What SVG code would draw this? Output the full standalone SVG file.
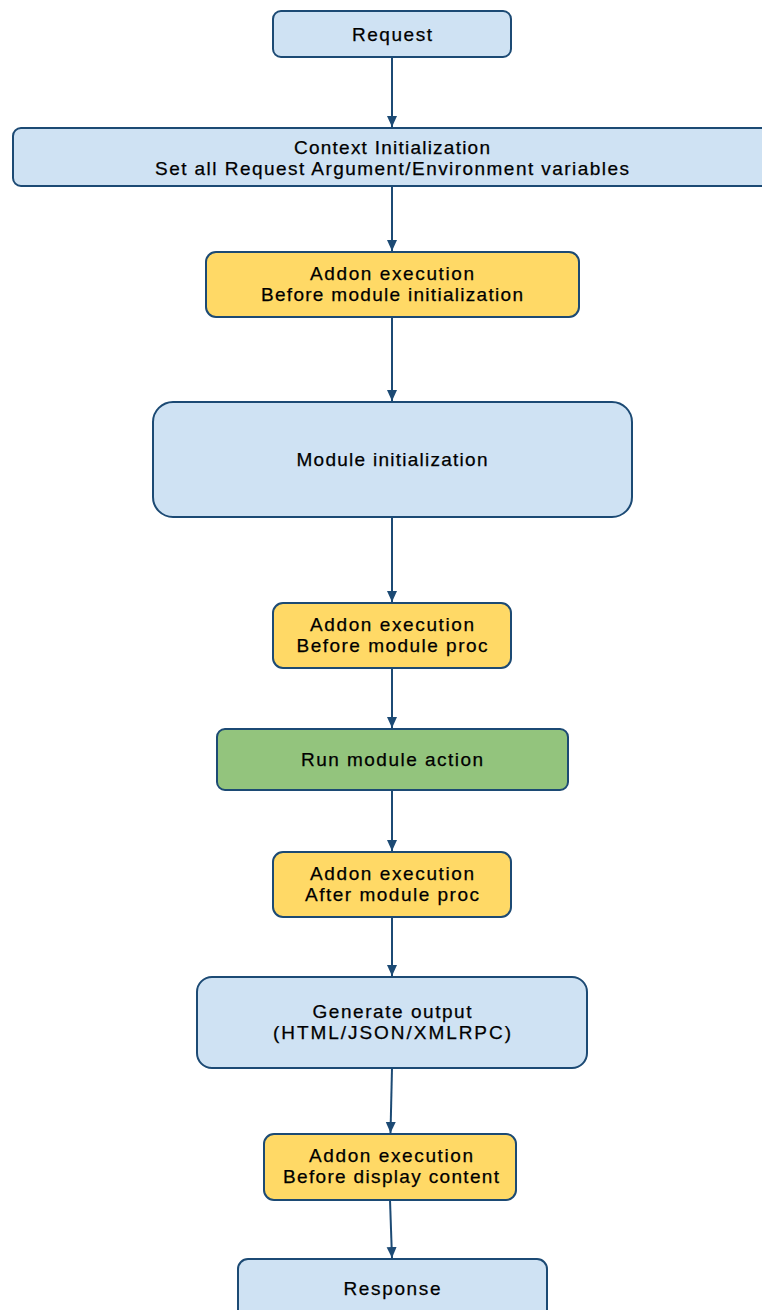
<svg xmlns="http://www.w3.org/2000/svg" width="762" height="1310" viewBox="0 0 762 1310">
<defs>
<style>
.b{stroke:#1c4a74;stroke-width:2}
.blue{fill:#cfe2f3}
.yel{fill:#ffd966}
.grn{fill:#93c47d}
text{font-family:"Liberation Sans",Arial,sans-serif;font-size:19px;fill:#000;text-anchor:middle;stroke:#000;stroke-width:0.25}
.c{stroke:#1c4a74;stroke-width:2;fill:none;marker-end:url(#ah)}
</style>
<marker id="ah" markerWidth="11" markerHeight="12" refX="11" refY="5" orient="auto" markerUnits="userSpaceOnUse" viewBox="0 0 11 10">
<path d="M0,0 L11,5 L0,10 z" fill="#1c4a74"/>
</marker>
</defs>
<rect width="762" height="1310" fill="#ffffff"/>
<g id="connectors">
<line class="c" x1="392" y1="57" x2="392" y2="127"/>
<line class="c" x1="392" y1="186" x2="392" y2="251"/>
<line class="c" x1="392" y1="317" x2="392" y2="401"/>
<line class="c" x1="392" y1="517" x2="392" y2="602"/>
<line class="c" x1="392" y1="668" x2="392" y2="728"/>
<line class="c" x1="392" y1="790" x2="392" y2="851"/>
<line class="c" x1="392" y1="917" x2="392" y2="976"/>
<line class="c" x1="392" y1="1068" x2="390.5" y2="1133"/>
<line class="c" x1="390" y1="1200" x2="392" y2="1258"/>
</g>
<g id="request"><rect class="b blue" x="273" y="11" width="238" height="46" rx="8"/><text x="392" y="41" textLength="80" lengthAdjust="spacing">Request</text></g>
<g id="context"><rect class="b blue" x="13" y="128" width="758" height="58" rx="8"/><text x="392" y="154" textLength="196" lengthAdjust="spacing">Context Initialization</text><text x="392" y="175" textLength="474" lengthAdjust="spacing">Set all Request Argument/Environment variables</text></g>
<g id="addon1"><rect class="b yel" x="206" y="252" width="373" height="65" rx="10"/><text x="392" y="280" textLength="164" lengthAdjust="spacing">Addon execution</text><text x="392" y="301" textLength="262" lengthAdjust="spacing">Before module initialization</text></g>
<g id="module"><rect class="b blue" x="153" y="402" width="479" height="115" rx="20"/><text x="392" y="466" textLength="191" lengthAdjust="spacing">Module initialization</text></g>
<g id="addon2"><rect class="b yel" x="273" y="603" width="238" height="65" rx="10"/><text x="392" y="631" textLength="164" lengthAdjust="spacing">Addon execution</text><text x="392" y="652" textLength="191" lengthAdjust="spacing">Before module proc</text></g>
<g id="run"><rect class="b grn" x="217" y="729" width="351" height="61" rx="8"/><text x="392" y="766" textLength="182" lengthAdjust="spacing">Run module action</text></g>
<g id="addon3"><rect class="b yel" x="273" y="852" width="238" height="65" rx="10"/><text x="392" y="880" textLength="164" lengthAdjust="spacing">Addon execution</text><text x="392" y="901" textLength="174" lengthAdjust="spacing">After module proc</text></g>
<g id="generate"><rect class="b blue" x="197" y="977" width="390" height="91" rx="15"/><text x="392" y="1018" textLength="159" lengthAdjust="spacing">Generate output</text><text x="392" y="1039" textLength="238" lengthAdjust="spacing">(HTML/JSON/XMLRPC)</text></g>
<g id="addon4"><rect class="b yel" x="264" y="1134" width="252" height="66" rx="10"/><text x="391" y="1162" textLength="164" lengthAdjust="spacing">Addon execution</text><text x="391" y="1183" textLength="216" lengthAdjust="spacing">Before display content</text></g>
<g id="response"><rect class="b blue" x="238" y="1259" width="309" height="70" rx="10"/><text x="392" y="1295" textLength="97" lengthAdjust="spacing">Response</text></g>
</svg>
